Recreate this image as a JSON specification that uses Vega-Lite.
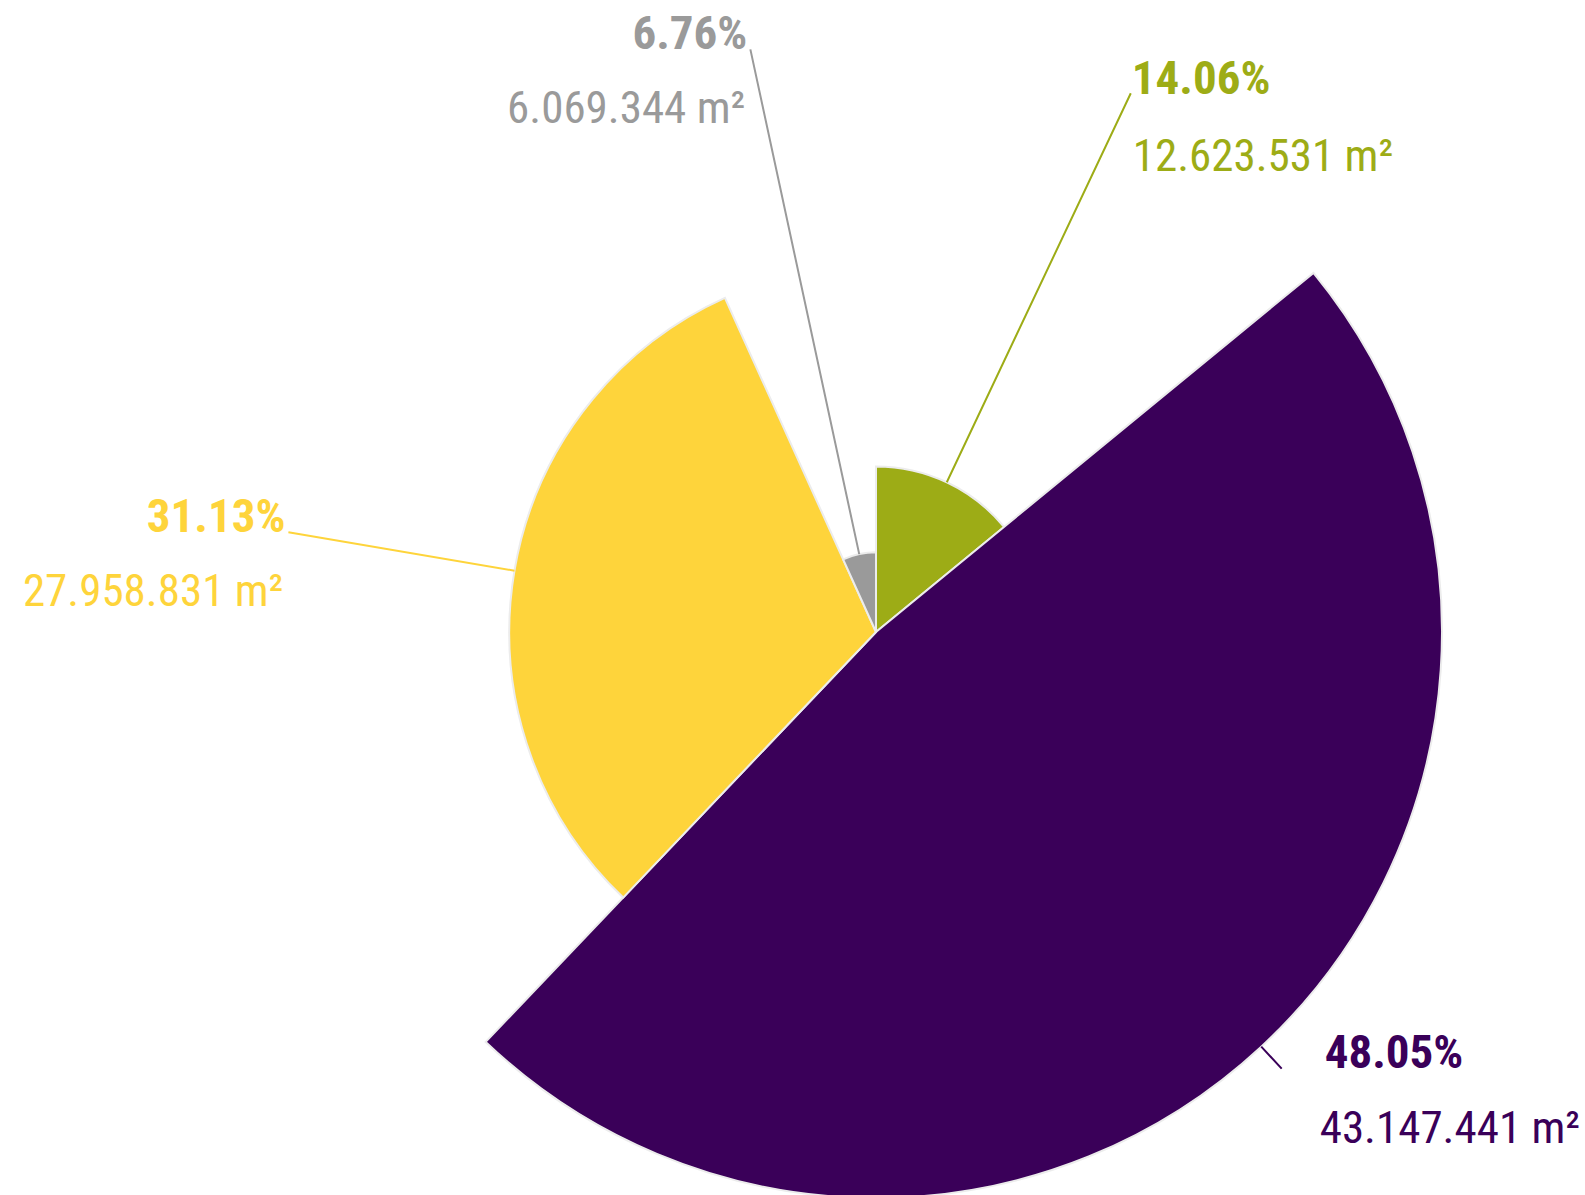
{
  "$schema": "https://vega.github.io/schema/vega-lite/v6.json",
  "autosize": {"type": "none"},
  "width": 1418,
  "height": 1126,
  "padding": {"left": 167, "top": 69, "right": 0, "bottom": 0},
  "background": "white",
  "view": {"stroke": null},
  "config": {"text": {"font": "Roboto Condensed, Open Sans Condensed, Noto Sans Condensed, Roboto, sans-serif"}},
  "data": {
    "values": [
      {"cat": "B", "pct": 14.06, "pctText": "14.06%", "areaText": "12.623.531 m²", "ord": 1},
      {"cat": "A", "pct": 48.05, "pctText": "48.05%", "areaText": "43.147.441 m²", "ord": 2},
      {"cat": "C", "pct": 31.13, "pctText": "31.13%", "areaText": "27.958.831 m²", "ord": 3},
      {"cat": "D", "pct": 6.76, "pctText": "6.76%", "areaText": "6.069.344 m²", "ord": 4}
    ]
  },
  "encoding": {
    "theta": {"field": "pct", "type": "quantitative", "stack": true},
    "order": {"field": "ord", "type": "quantitative"}
  },
  "layer": [
    {
      "mark": {"type": "arc", "stroke": "#ececec", "strokeWidth": 2},
      "encoding": {
        "radius": {"field": "pct", "type": "quantitative", "scale": {"type": "linear", "zero": true, "nice": false, "range": [0, 566]}},
        "color": {"field": "cat", "type": "nominal", "legend": null,
          "scale": {"domain": ["A", "B", "C", "D"], "range": ["#3a0059", "#9dac16", "#fed43b", "#9a9a9a"]}}
      }
    },
    {
      "mark": {"type": "arc", "padAngle": 3.14159, "fillOpacity": 0, "strokeWidth": 2},
      "encoding": {
        "radius": {"field": "pct", "type": "quantitative"},
        "radius2": {"value": 596},
        "stroke": {"field": "cat", "type": "nominal", "legend": null,
          "scale": {"domain": ["A", "B", "C", "D"], "range": ["#3a0059", "#9dac16", "#fed43b", "#9a9a9a"]}}
      }
    },
    {
      "mark": {"type": "text", "radius": 596, "align": "right", "baseline": "alphabetic", "dx": -3, "dy": 0, "fontSize": 47, "fontWeight": "bold"},
      "encoding": {
        "text": {"field": "pctText"},
        "color": {"field": "cat", "type": "nominal", "legend": null},
        "opacity": {"condition": {"test": "datum.cat === 'C' || datum.cat === 'D'", "value": 1}, "value": 0}
      }
    },
    {
      "mark": {"type": "text", "radius": 596, "align": "right", "baseline": "alphabetic", "dx": -5, "dy": 74, "fontSize": 45},
      "encoding": {
        "text": {"field": "areaText"},
        "color": {"field": "cat", "type": "nominal", "legend": null},
        "opacity": {"condition": {"test": "datum.cat === 'C' || datum.cat === 'D'", "value": 1}, "value": 0}
      }
    },
    {
      "mark": {"type": "text", "radius": 596, "align": "left", "baseline": "alphabetic", "dx": 1, "dy": 1, "fontSize": 47, "fontWeight": "bold"},
      "encoding": {
        "text": {"field": "pctText"},
        "color": {"field": "cat", "type": "nominal", "legend": null},
        "opacity": {"condition": {"test": "datum.cat === 'B'", "value": 1}, "value": 0}
      }
    },
    {
      "mark": {"type": "text", "radius": 596, "align": "left", "baseline": "alphabetic", "dx": 2, "dy": 78, "fontSize": 45},
      "encoding": {
        "text": {"field": "areaText"},
        "color": {"field": "cat", "type": "nominal", "legend": null},
        "opacity": {"condition": {"test": "datum.cat === 'B'", "value": 1}, "value": 0}
      }
    },
    {
      "mark": {"type": "text", "radius": 596, "align": "left", "baseline": "alphabetic", "dx": 43, "dy": -1, "fontSize": 47, "fontWeight": "bold"},
      "encoding": {
        "text": {"field": "pctText"},
        "color": {"field": "cat", "type": "nominal", "legend": null},
        "opacity": {"condition": {"test": "datum.cat === 'A'", "value": 1}, "value": 0}
      }
    },
    {
      "mark": {"type": "text", "radius": 596, "align": "left", "baseline": "alphabetic", "dx": 38, "dy": 74, "fontSize": 45},
      "encoding": {
        "text": {"field": "areaText"},
        "color": {"field": "cat", "type": "nominal", "legend": null},
        "opacity": {"condition": {"test": "datum.cat === 'A'", "value": 1}, "value": 0}
      }
    }
  ]
}
